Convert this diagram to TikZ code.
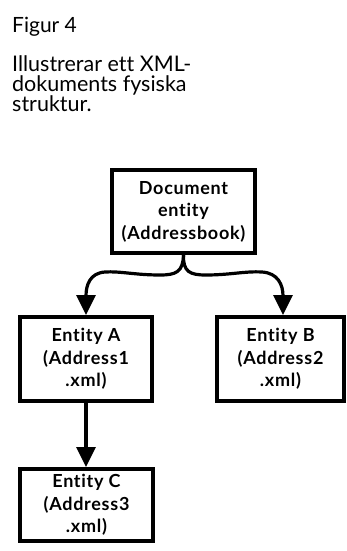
\documentclass[tikz,border=0pt]{standalone}
\usepackage{fontspec}
\setmainfont{Lato}[Ligatures=NoCommon]
\usetikzlibrary{arrows.meta}

\begin{document}
\begin{tikzpicture}[x=1pt,y=-1pt,
    entity/.style={draw, line width=4pt, align=center, inner sep=0pt,
      font=\bfseries\fontsize{18}{22.5}\selectfont\addfontfeature{LetterSpace=4}},
    link/.style={line width=3.2pt, -{Triangle[length=20pt,width=19pt]}}]
  \useasboundingbox (0,0) rectangle (346,551);

  % caption
  \node[anchor=base west, inner sep=0pt, font=\fontsize{21}{20}\selectfont] (fig) at (12,33) {Figur 4};
  \node[anchor=north west, inner sep=0pt, align=left, font=\fontsize{21.5}{20}\selectfont] (caption) at (12,55) {Illustrerar ett XML-\\dokuments fysiska\\struktur.};

  % entities
  \node[entity, minimum width=143pt, minimum height=83pt] (doc) at (183.5,211.5) {Document\\entity\\(Addressbook)};
  \node[entity, minimum width=132pt, minimum height=84pt] (A) at (86,359) {Entity A\\(Address1\\.xml)};
  \node[entity, minimum width=127pt, minimum height=84pt] (B) at (280.5,359) {Entity B\\(Address2\\.xml)};
  \node[entity, minimum width=133pt, minimum height=72pt] (C) at (86.5,505) {Entity C\\(Address3\\.xml)};

  % links
  \draw[link] (doc.south) .. controls (183,272) and (176,275) .. (160,275)
    .. controls (135,275) and (120,271) .. (105,272)
    .. controls (90,273) and (86,285) .. (A.north);
  \draw[link] (doc.south) .. controls (183,272) and (190,275) .. (206,275)
    .. controls (230,275) and (245,271) .. (262,272)
    .. controls (278,273) and (283,285) .. ([xshift=2.5pt]B.north);
  \draw[link] (A.south) -- (A.south |- C.north);
\end{tikzpicture}
\end{document}
